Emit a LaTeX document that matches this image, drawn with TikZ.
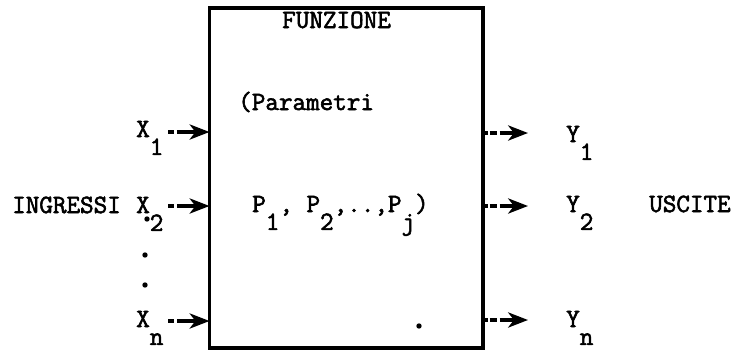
\documentclass[tikz,border=0pt]{standalone}
\usepackage{fontspec}
\newfontfamily\typew{Latin Modern Mono}[FakeBold=2.2]
\usetikzlibrary{arrows.meta}
\newcommand\subtxt[1]{\raisebox{-0.68em}{#1}}

\begin{document}
\begin{tikzpicture}[x=0.03cm,y=-0.03cm,
  lbl/.style={anchor=base west,inner sep=0pt,font=\fontsize{22.5}{26}\selectfont\typew},
  inarr/.style={line width=2.6pt,dash pattern=on 5.5pt off 2pt on 60pt,
    -{Stealth[length=17pt,width=13pt,inset=5pt]}},
  outarr/.style={line width=2.6pt,dash pattern=on 4pt off 1.7pt on 6pt off 2.5pt on 60pt,
    -{Stealth[length=17pt,width=13pt,inset=5pt]}},
  spot/.style={radius=2.3pt}]
\useasboundingbox (0,0) rectangle (742,351);
% block
\node[draw,line width=2.6pt,minimum width=8.205cm,minimum height=10.2cm,
  inner sep=0pt,outer sep=0pt] (fun) at (346.25,178) {};
\node[lbl] (funz) at (282,28) {FUNZIONE};
\node[lbl] (par) at (238,110) {(Parametri};
\node[lbl] (plist) at (252,212) {P\subtxt{1}, P\subtxt{2},..,P\subtxt{j})};
\fill (419,326) circle[spot];
% inputs
\node[lbl] (ingr) at (12,213) {INGRESSI};
\foreach \nm/\yy/\ya/\sb in {x1/137/132/1, x2/213/206/2, xn/327/321/n} {
  \node[lbl] (\nm) at (136,\yy) {X\subtxt{\sb}};
  \coordinate (\nm s) at (168,\ya);
  \draw[inarr] (\nm s) -- (\nm s -| fun.west);
}
\fill (147,219) circle[spot];
\fill (145,255) circle[spot];
\fill (145,285) circle[spot];
% outputs
\node[lbl] (usc) at (649,212) {USCITE};
\foreach \nm/\yy/\ya/\sb in {y1/142/133/1, y2/212/206/2, yn/327/320/n} {
  \node[lbl] (\nm) at (566,\yy) {Y\subtxt{\sb}};
  \coordinate (\nm e) at (528,\ya);
  \draw[outarr] (\nm e -| fun.east) -- (\nm e);
}
\end{tikzpicture}
\end{document}
